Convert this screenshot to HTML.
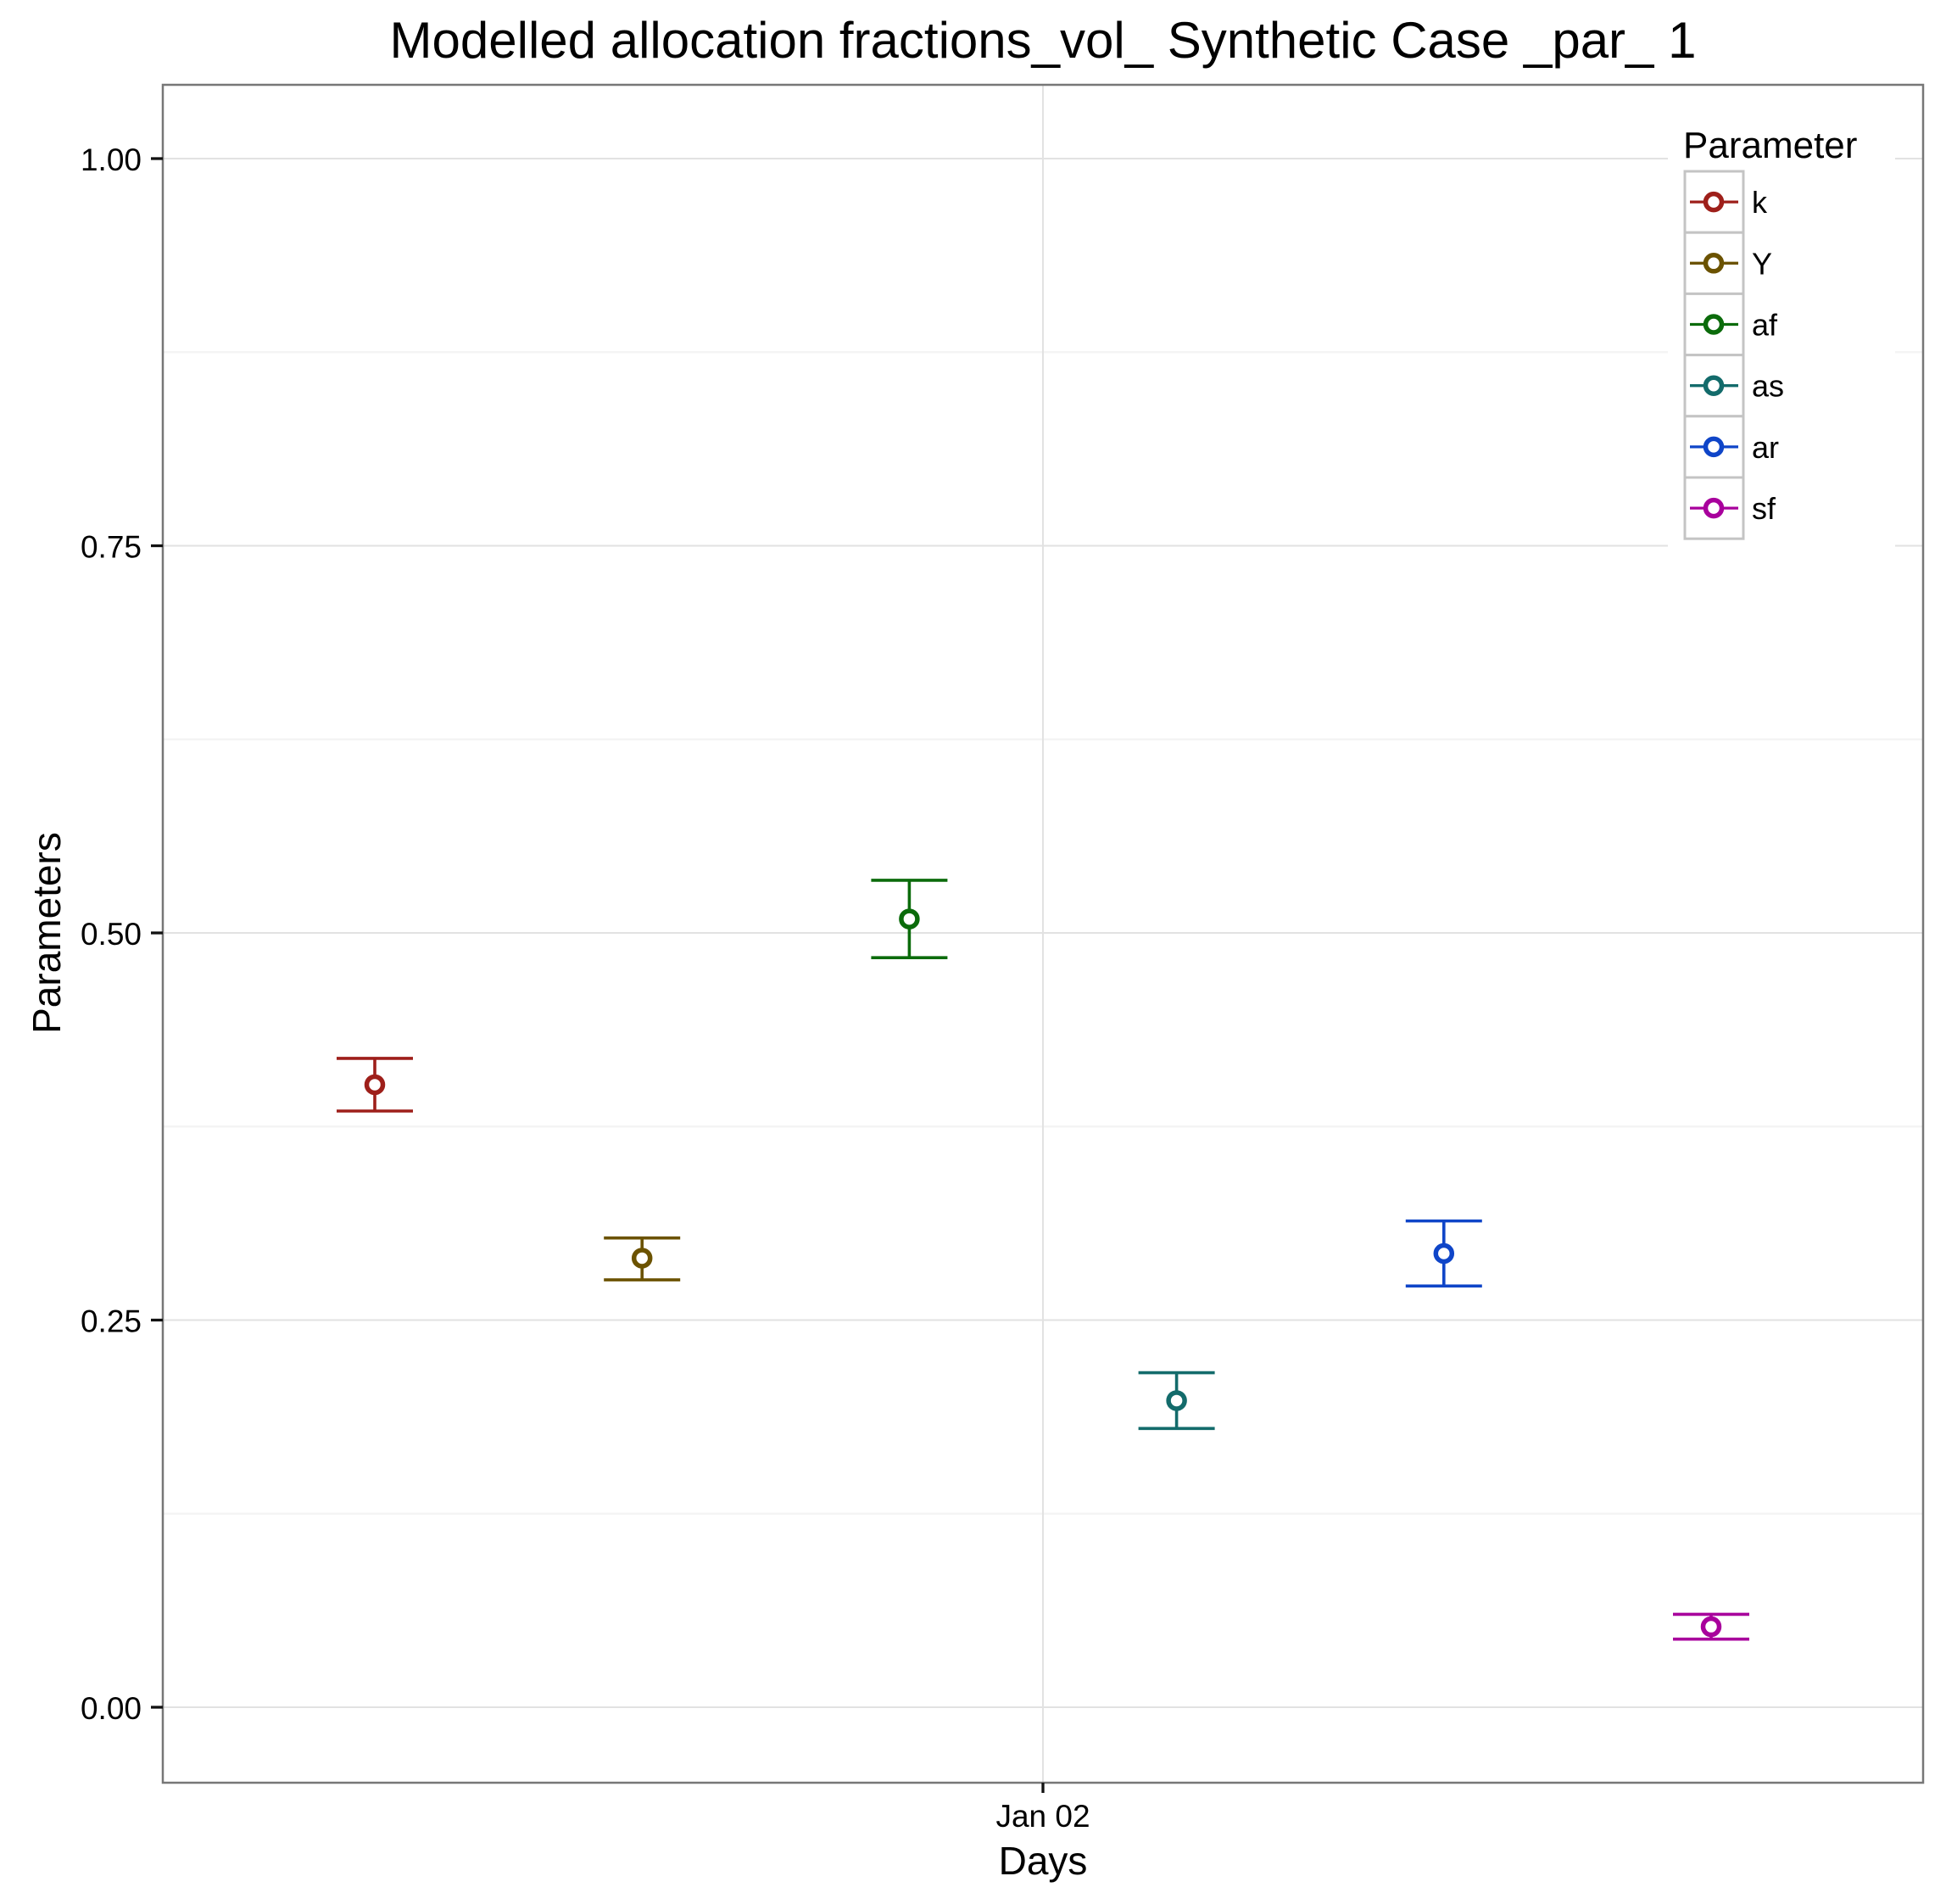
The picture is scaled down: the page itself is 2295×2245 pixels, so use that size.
<!DOCTYPE html>
<html><head><meta charset="utf-8"><style>
body{margin:0;background:#fff}
svg{display:block;font-family:"Liberation Sans",Arial,sans-serif}
</style></head><body>
<svg id="chart" width="2295" height="2245" viewBox="0 0 2295 2245">
<text x="1230" y="68" font-size="60" text-anchor="middle">Modelled allocation fractions_vol_ Synthetic Case _par_ 1</text>
<g id="grid"></g>
<g id="marks"></g>
<rect x="192" y="100" width="2076" height="2002" fill="none" stroke="#777" stroke-width="2.5"/>
<g id="axes"></g>
<text x="1230" y="2210" font-size="46" text-anchor="middle">Days</text>
<text transform="translate(71,1100) rotate(-90)" font-size="46" text-anchor="middle">Parameters</text>
<g id="legend"></g>
</svg>
<script>
const categories = ["k","Y","af","as","ar","sf"];
const meanValues = [0.402,0.290,0.509,0.198,0.293,0.052];
const upperValues = [0.419,0.303,0.534,0.216,0.314,0.060];
const lowerValues = [0.385,0.276,0.484,0.180,0.272,0.044];
const colors = ["#9e1f1a","#6b5200","#0b6b0b","#136b6b","#0f45c8","#a8009c"];
const yTicks = [0,0.25,0.5,0.75,1];
const yTickLabels = ["0.00","0.25","0.50","0.75","1.00"];
const yMinor = [0.125,0.375,0.625,0.875];
const xTickLabel = "Jan 02";

const NS="http://www.w3.org/2000/svg";
const L=192,R=2268,T=100,B=2102;
const Y0=2013,Y1=187;
const y=v=>Y0-v*(Y0-Y1);
const cx=1230, dodge=315.2;
const x=i=>cx+(i-(categories.length-1)/2)*dodge;
function mk(tag,attrs,parent){const e=document.createElementNS(NS,tag);for(const k in attrs)e.setAttribute(k,attrs[k]);parent.appendChild(e);return e;}
const grid=document.getElementById('grid'),marks=document.getElementById('marks'),axes=document.getElementById('axes'),legend=document.getElementById('legend');
yMinor.forEach(v=>{const e=mk('line',{x1:L,x2:R,y1:y(v),y2:y(v),stroke:'#f4f4f4','stroke-width':2.5},grid);

});
yTicks.forEach((v,i)=>{const g=mk('line',{x1:L,x2:R,y1:y(v),y2:y(v),stroke:'#e2e2e2','stroke-width':2},grid);


const t=mk('line',{x1:L-14,x2:L,y1:y(v),y2:y(v),stroke:'#111','stroke-width':3.3},axes);


const lb=mk('text',{x:L-25,y:y(v)+14,'font-size':37,'text-anchor':'end',fill:'#000'},axes);lb.textContent=yTickLabels[i];

});
const vg=mk('line',{x1:cx,x2:cx,y1:T,y2:B,stroke:'#e2e2e2','stroke-width':2},grid);


const xt=mk('line',{x1:cx,x2:cx,y1:B,y2:B+12,stroke:'#111','stroke-width':3.3},axes);


const xl=mk('text',{x:cx,y:2154,'font-size':37,'text-anchor':'middle',fill:'#000'},axes);xl.textContent=xTickLabel;


categories.forEach((c,i)=>{const g=mk('g',{},marks);


const px=x(i),col=colors[i];
mk('line',{x1:px,x2:px,y1:y(upperValues[i]),y2:y(lowerValues[i]),stroke:col,'stroke-width':3.6},g);
mk('line',{x1:px-45,x2:px+45,y1:y(upperValues[i]),y2:y(upperValues[i]),stroke:col,'stroke-width':3.6},g);
mk('line',{x1:px-45,x2:px+45,y1:y(lowerValues[i]),y2:y(lowerValues[i]),stroke:col,'stroke-width':3.6},g);
const p=mk('circle',{cx:px,cy:y(meanValues[i]),r:9.5,fill:'#fff',stroke:col,'stroke-width':5.5},g);

});
// legend
const lbg=mk('rect',{x:1967,y:140,width:268,height:505,fill:'#fff'},legend);


const lt=mk('text',{x:1985,y:186,'font-size':44},legend);lt.textContent='Parameter';


const rowH=72.2,top0=202;
categories.forEach((c,i)=>{const g=mk('g',{},legend);


const ty=top0+i*rowH;
mk('rect',{x:1987,y:ty,width:69,height:rowH,fill:'#fff',stroke:'#c4c4c4','stroke-width':3},g);
mk('line',{x1:1993,x2:2050,y1:ty+rowH/2,y2:ty+rowH/2,stroke:colors[i],'stroke-width':3.3},g);
mk('circle',{cx:2021,cy:ty+rowH/2,r:9.5,fill:'#fff',stroke:colors[i],'stroke-width':5.5},g);
const t=mk('text',{x:2066,y:ty+rowH/2+13,'font-size':36},g);t.textContent=c;});
</script>
</body></html>
